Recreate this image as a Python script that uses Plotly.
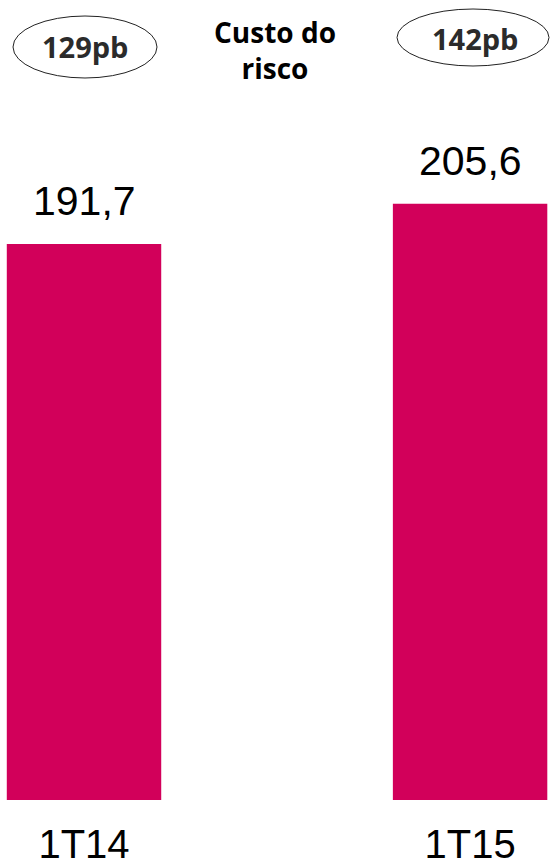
import plotly.graph_objects as go

# Quarterly values (R$ mm) and cost-of-risk badges
periods = ["1T14", "1T15"]
values = [191.7, 205.6]
cost_of_risk = ["129pb", "142pb"]
title_text = "Custo do<br>risco"

W, H = 550, 865
PLOT_H = 800           # plot area height in px (baseline at y=800)
BAR_COLOR = "#D2005A"

fig = go.Figure(
    go.Bar(
        x=periods,
        y=values,
        width=0.4,
        marker=dict(color=BAR_COLOR, line=dict(width=0)),
        hoverinfo="skip",
    )
)

def fmt(v):
    return f"{v:.1f}".replace(".", ",")

# value labels above bars
for p, v in zip(periods, values):
    fig.add_annotation(
        x=p, y=v, text=fmt(v), showarrow=False,
        yanchor="bottom", yshift=18,
        font=dict(family="Liberation Sans", size=41, color="#000000"),
    )

def px_x(px):
    return px / W

def px_y(px):
    return 1 - px / PLOT_H

# cost-of-risk badges (ellipse + text)
badges = [
    dict(cx=85, cy=47, x0=13, x1=157, y0=16, y1=78),
    dict(cx=475, cy=39, x0=397, x1=549, y0=9, y1=66),
]
for txt, b in zip(cost_of_risk, badges):
    fig.add_shape(
        type="circle", xref="paper", yref="paper",
        x0=px_x(b["x0"]), x1=px_x(b["x1"]),
        y0=px_y(b["y1"]), y1=px_y(b["y0"]),
        line=dict(color="#222222", width=1),
    )
    fig.add_annotation(
        x=px_x(b["cx"]), y=px_y(b["cy"]), xref="paper", yref="paper",
        text=f"<b>{txt}</b>", showarrow=False,
        xanchor="center", yanchor="middle",
        font=dict(family="Open Sans", size=29, color="#2b2b2b"),
    )

fig.add_annotation(
    x=px_x(275), y=px_y(50), xref="paper", yref="paper",
    text=f"<b>{title_text}</b>", showarrow=False,
    xanchor="center", yanchor="middle",
    font=dict(family="Open Sans", size=28, color="#000000"),
)

fig.update_layout(
    width=W, height=H,
    margin=dict(l=0, r=0, t=0, b=H - PLOT_H),
    paper_bgcolor="white", plot_bgcolor="white",
    showlegend=False,
    xaxis=dict(
        type="category", range=[-0.2176, 1.207], automargin=False,
        showgrid=False, zeroline=False, showline=False, ticks="",
        ticklabelstandoff=17,
        tickfont=dict(family="Liberation Sans", size=40, color="#000000"),
    ),
    yaxis=dict(
        range=[0, PLOT_H / 2.9], visible=False, showgrid=False, zeroline=False,
        automargin=False,
    ),
)

fig.write_html("out.html")
